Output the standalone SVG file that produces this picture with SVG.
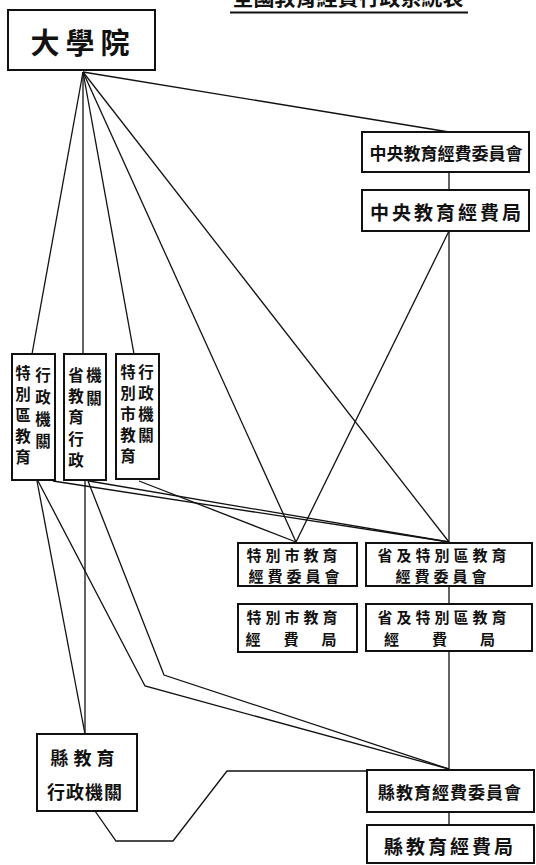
<svg xmlns="http://www.w3.org/2000/svg" width="536" height="865" viewBox="0 0 536 865">
<style>
.box{fill:#fff;stroke:#111;stroke-width:2}
.ln{fill:none;stroke:#111;stroke-width:1.3}
text{font-family:"Noto Sans CJK TC","Noto Sans CJK SC",sans-serif;font-weight:700;fill:#111;dominant-baseline:central;text-anchor:middle}
.v{font-size:15.5px}
.t15{font-size:15px}
.t17{font-size:17px}
.t18{font-size:18px}
.t19{font-size:19px}
</style>
<rect width="536" height="865" fill="#fff"/>
<g id="title">
<text x="348" y="-4" style="font-size:21px">全國教育經費行政系統表</text>
<line x1="230" y1="12.5" x2="468" y2="12.5" stroke="#111" stroke-width="1.8"/>
</g>
<g id="connectors">
<line class="ln" x1="83" y1="72" x2="32" y2="354"/>
<line class="ln" x1="83" y1="72" x2="83" y2="354"/>
<line class="ln" x1="83" y1="72" x2="134" y2="354"/>
<line class="ln" x1="83" y1="72" x2="296" y2="542"/>
<line class="ln" x1="83" y1="72" x2="449" y2="542"/>
<line class="ln" x1="83" y1="72" x2="449" y2="132"/>
<line class="ln" x1="449" y1="172" x2="449" y2="190"/>
<line class="ln" x1="449" y1="231" x2="449" y2="542"/>
<line class="ln" x1="449" y1="231" x2="296" y2="542"/>
<line class="ln" x1="449" y1="586" x2="449" y2="604"/>
<line class="ln" x1="449" y1="651" x2="449" y2="769"/>
<line class="ln" x1="449" y1="812" x2="449" y2="825"/>
<line class="ln" x1="53" y1="481" x2="449" y2="542"/>
<line class="ln" x1="89" y1="481" x2="449" y2="542"/>
<line class="ln" x1="139" y1="481" x2="296" y2="542"/>
<line class="ln" x1="37" y1="481" x2="85" y2="734"/>
<line class="ln" x1="85" y1="481" x2="85" y2="734"/>
<polyline class="ln" points="38,481 145,686 449,769"/>
<polyline class="ln" points="88,481 164,675 449,769"/>
<polyline class="ln" points="95,811 116,841 173,841 227,771 367,771"/>
</g>
<g id="daxueyuan">
<rect class="box" x="8" y="10" width="147" height="60"/>
<text x="83" y="41" style="font-size:29px;letter-spacing:6px">大學院</text>
</g>
<g id="zhongyang-weiyuanhui">
<rect class="box" x="362" y="132" width="167" height="40"/>
<text class="t17" x="446" y="152">中央教育經費委員會</text>
</g>
<g id="zhongyang-ju">
<rect class="box" x="362" y="190" width="167" height="41"/>
<text class="t19" x="447" y="211" style="letter-spacing:3px">中央教育經費局</text>
</g>
<g id="tebiequ-xingzheng">
<rect class="box" x="12" y="354" width="43" height="126"/>
<text class="v"><tspan x="23" y="372">特</tspan><tspan x="23" y="393">別</tspan><tspan x="23" y="414">區</tspan><tspan x="23" y="435">教</tspan><tspan x="23" y="456">育</tspan></text>
<text class="v"><tspan x="43" y="374">行</tspan><tspan x="43" y="396">政</tspan><tspan x="43" y="418">機</tspan><tspan x="43" y="440">關</tspan></text>
</g>
<g id="sheng-xingzheng">
<rect class="box" x="64" y="354" width="42" height="126"/>
<text class="v"><tspan x="76" y="374">省</tspan><tspan x="76" y="395">教</tspan><tspan x="76" y="416">育</tspan><tspan x="76" y="438">行</tspan><tspan x="76" y="459">政</tspan></text>
<text class="v"><tspan x="94" y="374">機</tspan><tspan x="94" y="397">關</tspan></text>
</g>
<g id="tebieshi-xingzheng">
<rect class="box" x="116" y="354" width="43" height="125"/>
<text class="v"><tspan x="128" y="371">特</tspan><tspan x="128" y="392">別</tspan><tspan x="128" y="413">市</tspan><tspan x="128" y="434">教</tspan><tspan x="128" y="455">育</tspan></text>
<text class="v"><tspan x="146" y="371">行</tspan><tspan x="146" y="392">政</tspan><tspan x="146" y="413">機</tspan><tspan x="146" y="434">關</tspan></text>
</g>
<g id="tebieshi-weiyuanhui">
<rect class="box" x="238" y="543" width="119" height="43"/>
<text class="t15" x="294" y="554" style="letter-spacing:4px">特別市教育</text>
<text class="t15" x="296" y="575" style="letter-spacing:4px">經費委員會</text>
</g>
<g id="sheng-weiyuanhui">
<rect class="box" x="366" y="543" width="166" height="43"/>
<text class="t15" x="444" y="554" style="letter-spacing:4px">省及特別區教育</text>
<text class="t15" x="443" y="575" style="letter-spacing:4px">經費委員會</text>
</g>
<g id="tebieshi-ju">
<rect class="box" x="238" y="604" width="119" height="48"/>
<text class="t15" x="294" y="616" style="letter-spacing:4px">特別市教育</text>
<text class="t15" x="293" y="638" style="letter-spacing:4px">經　費　局</text>
</g>
<g id="sheng-ju">
<rect class="box" x="366" y="604" width="166" height="47"/>
<text class="t15" x="444" y="616" style="letter-spacing:4px">省及特別區教育</text>
<text class="t15" x="444" y="638" style="letter-spacing:9px">經　費　局</text>
</g>
<g id="xian-xingzheng">
<rect class="box" x="37" y="734" width="100" height="77"/>
<text class="t18" x="85" y="757" style="letter-spacing:5px">縣教育</text>
<text class="t18" x="85" y="791" style="letter-spacing:1px">行政機關</text>
</g>
<g id="xian-weiyuanhui">
<rect class="box" x="367" y="770" width="167" height="42"/>
<text class="t17" x="450" y="791" style="letter-spacing:1px">縣教育經費委員會</text>
</g>
<g id="xian-ju">
<rect class="box" x="367" y="825" width="167" height="38"/>
<text class="t19" x="450" y="845" style="letter-spacing:3px">縣教育經費局</text>
</g>
</svg>
